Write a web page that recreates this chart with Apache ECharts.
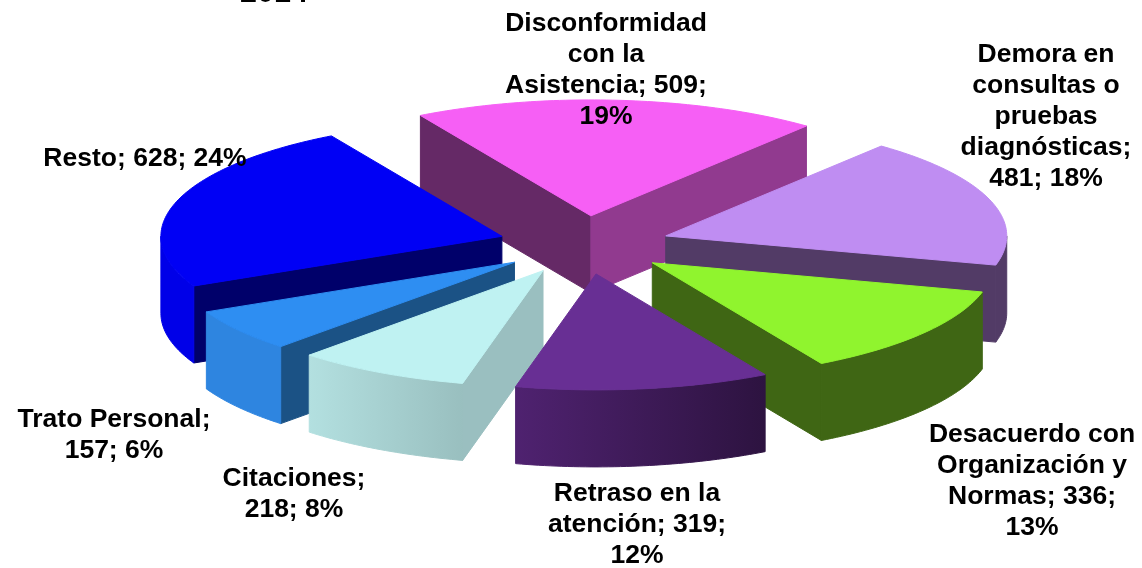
<!DOCTYPE html>
<html>
<head>
<meta charset="utf-8">
<style>html, body { margin: 0; background: #fff; } #chart { width: 1142px; height: 568px; }</style>
<script src="https://cdn.jsdelivr.net/npm/echarts@6/dist/echarts.min.js"></script>
</head>
<body>
<div id="chart"></div>
<script>
// datos
const titleText = '2014'
const categories = ['Disconformidad\ncon la\nAsistencia', 'Demora en\nconsultas o\npruebas\ndiagnósticas', 'Desacuerdo con\nOrganización y\nNormas', 'Retraso en la\natención', 'Citaciones', 'Trato Personal', 'Resto']
const values = [509, 481, 336, 319, 218, 157, 628]

// separadores de linea de cada etiqueta
const sepBeforeValue = [' ', '\n', ' ', ' ', '\n', '\n', ' ']
const sepBeforePct = ['\n', ' ', '\n', '\n', ' ', ' ', ' ']

// centro del bloque de cada etiqueta
const labelX = [606, 1046, 1032, 637, 294, 114, 145]
const labelY = [70, 117, 481, 525, 494, 435, 159]

// colores: cara superior, pared inicial, pared final, exterior izq/der
const topColors = ['#F65FF5', '#BF8DF2', '#90F42E', '#682F94', '#BFF2F2', '#2E8EF2', '#0000F5']
const startWallColors = ['#652966', '#523B66', '#3F6614', '#4F2270', '#9ABFC0', '#1B5285', '#00006A']
const endWallColors = ['#913A8F', '#523B66', '#3F6614', '#2D1340', '#9ABFC0', '#1B5285', '#00006A']
const outerLeftColors = ['#913A8F', '#523B66', '#3F6614', '#4F2270', '#B3E0E0', '#2E85E0', '#0000E8']
const outerRightColors = ['#913A8F', '#523B66', '#3F6614', '#2D1340', '#99BFBF', '#2E85E0', '#0000E8']

// proyeccion de la tarta
const cx = 584
const cy = 245
const radius = 341
const squash = 0.34
const explode = 86
const depth = 77
const startAngle = -30

const total = values.reduce((a, b) => a + b, 0)
const rad = d => d * Math.PI / 180

const slices = []
let acc = startAngle
values.forEach((v, i) => {
  const a0 = acc
  const a1 = acc + v / total * 360
  acc = a1
  slices.push({ i, a0, a1, mid: (a0 + a1) / 2 })
})

// angulo en grados desde arriba, en sentido horario
const rimPoint = (ox, oy, a) => [ox + radius * Math.sin(rad(a)), oy - radius * squash * Math.cos(rad(a))]

const arcPoints = (ox, oy, a0, a1) => {
  const pts = []
  const n = Math.max(2, Math.ceil(Math.abs(a1 - a0)))
  for (let k = 0; k <= n; k++) pts.push(rimPoint(ox, oy, a0 + (a1 - a0) * k / n))
  return pts
}

const poly = (points, fill) => ({
  type: 'polygon',
  shape: { points },
  style: { fill, stroke: fill, lineWidth: 1 }
})

const drop = p => [p[0], p[1] + depth]

const renderSlice = (params, api) => {
  const s = slices[api.value(0)]
  const i = s.i
  const ox = cx + explode * Math.sin(rad(s.mid))
  const oy = cy - explode * squash * Math.cos(rad(s.mid))
  const apex = [ox, oy]
  const p0 = rimPoint(ox, oy, s.a0)
  const p1 = rimPoint(ox, oy, s.a1)
  const children = []

  // paredes radiales visibles
  if (-Math.cos(rad(s.a0 - 90)) > 0) {
    children.push(poly([apex, p0, drop(p0), drop(apex)], startWallColors[i]))
  }
  if (-Math.cos(rad(s.a1 + 90)) > 0) {
    children.push(poly([apex, p1, drop(p1), drop(apex)], endWallColors[i]))
  }

  // pared exterior, solo la mitad frontal
  const from = Math.max(s.a0, 90)
  const to = Math.min(s.a1, 270)
  if (to > from) {
    const rim = arcPoints(ox, oy, from, to)
    const wallFill = new echarts.graphic.LinearGradient(0, 0, 1, 0, [
      { offset: 0, color: outerLeftColors[i] },
      { offset: 1, color: outerRightColors[i] }
    ])
    children.push(poly(rim.concat(rim.map(drop).reverse()), wallFill))
  }

  children.push(poly([apex].concat(arcPoints(ox, oy, s.a0, s.a1)), topColors[i]))
  return { type: 'group', children }
}

// de atras hacia adelante
const drawOrder = slices.slice().sort((a, b) => Math.cos(rad(b.mid)) - Math.cos(rad(a.mid))).map(s => [s.i])

const labelText = i => {
  const pct = Math.round(values[i] / total * 100)
  return categories[i] + ';' + sepBeforeValue[i] + values[i] + ';' + sepBeforePct[i] + pct + '%'
}

const textStyle = { fontFamily: '"Liberation Sans", Arial, sans-serif', fontWeight: 'bold', fontSize: 26.5, lineHeight: 31, fill: '#000', align: 'center', verticalAlign: 'middle' }

const chart = echarts.init(document.getElementById('chart'))
chart.setOption({
  animation: false,
  backgroundColor: '#fff',
  series: [{
    type: 'custom',
    coordinateSystem: 'none',
    silent: true,
    renderItem: renderSlice,
    data: drawOrder
  }],
  graphic: values.map((v, i) => ({
    type: 'text',
    z: 100,
    x: labelX[i],
    y: labelY[i],
    style: { ...textStyle, text: labelText(i) }
  })).concat([{
    type: 'text',
    z: 100,
    x: 274,
    y: -22,
    style: { ...textStyle, fontSize: 30.5, lineHeight: 30.5, verticalAlign: 'top', text: titleText }
  }])
})
</script>
</body>
</html>
